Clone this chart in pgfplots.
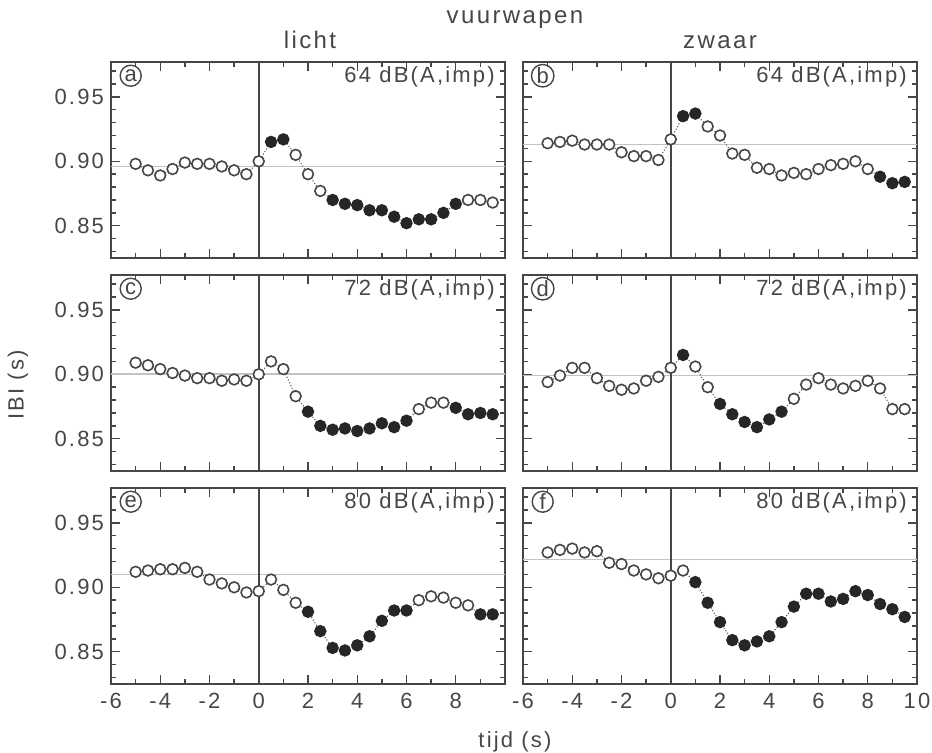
\documentclass[border=0pt]{standalone}
\usepackage{fontspec}
\setmainfont[LetterSpace=10]{Liberation Sans}
\usepackage{pgfplots}
\usepackage{pgfplotstable}
\pgfplotsset{compat=1.18}
\definecolor{ink}{RGB}{70,70,70}
\definecolor{refline}{RGB}{195,195,195}

% x y f   (f=1: filled marker)
\pgfplotstableread{
x y f
-5 0.898 0
-4.5 0.893 0
-4 0.889 0
-3.5 0.894 0
-3 0.899 0
-2.5 0.898 0
-2 0.898 0
-1.5 0.896 0
-1 0.893 0
-0.5 0.890 0
0 0.900 0
0.5 0.915 1
1 0.917 1
1.5 0.905 0
2 0.890 0
2.5 0.877 0
3 0.870 1
3.5 0.867 1
4 0.866 1
4.5 0.862 1
5 0.862 1
5.5 0.857 1
6 0.852 1
6.5 0.855 1
7 0.855 1
7.5 0.860 1
8 0.867 1
8.5 0.870 0
9 0.870 0
9.5 0.868 0
}\dataA
\pgfplotstableread{
x y f
-5 0.914 0
-4.5 0.915 0
-4 0.916 0
-3.5 0.913 0
-3 0.913 0
-2.5 0.913 0
-2 0.907 0
-1.5 0.904 0
-1 0.904 0
-0.5 0.901 0
0 0.917 0
0.5 0.935 1
1 0.937 1
1.5 0.927 0
2 0.920 0
2.5 0.906 0
3 0.905 0
3.5 0.895 0
4 0.894 0
4.5 0.889 0
5 0.891 0
5.5 0.890 0
6 0.894 0
6.5 0.897 0
7 0.898 0
7.5 0.900 0
8 0.894 0
8.5 0.888 1
9 0.883 1
9.5 0.884 1
}\dataB
\pgfplotstableread{
x y f
-5 0.909 0
-4.5 0.907 0
-4 0.904 0
-3.5 0.901 0
-3 0.899 0
-2.5 0.897 0
-2 0.897 0
-1.5 0.895 0
-1 0.896 0
-0.5 0.895 0
0 0.900 0
0.5 0.910 0
1 0.904 0
1.5 0.883 0
2 0.871 1
2.5 0.860 1
3 0.857 1
3.5 0.858 1
4 0.856 1
4.5 0.858 1
5 0.862 1
5.5 0.859 1
6 0.864 1
6.5 0.873 0
7 0.878 0
7.5 0.878 0
8 0.874 1
8.5 0.869 1
9 0.870 1
9.5 0.869 1
}\dataC
\pgfplotstableread{
x y f
-5 0.894 0
-4.5 0.899 0
-4 0.905 0
-3.5 0.905 0
-3 0.897 0
-2.5 0.891 0
-2 0.888 0
-1.5 0.889 0
-1 0.895 0
-0.5 0.898 0
0 0.905 0
0.5 0.915 1
1 0.906 0
1.5 0.890 0
2 0.877 1
2.5 0.869 1
3 0.863 1
3.5 0.859 1
4 0.865 1
4.5 0.871 1
5 0.881 0
5.5 0.892 0
6 0.897 0
6.5 0.892 0
7 0.889 0
7.5 0.891 0
8 0.895 0
8.5 0.889 0
9 0.873 0
9.5 0.873 0
}\dataD
\pgfplotstableread{
x y f
-5 0.912 0
-4.5 0.913 0
-4 0.914 0
-3.5 0.914 0
-3 0.915 0
-2.5 0.912 0
-2 0.906 0
-1.5 0.903 0
-1 0.900 0
-0.5 0.896 0
0 0.897 0
0.5 0.906 0
1 0.898 0
1.5 0.888 0
2 0.881 1
2.5 0.866 1
3 0.853 1
3.5 0.851 1
4 0.855 1
4.5 0.862 1
5 0.874 1
5.5 0.882 1
6 0.882 1
6.5 0.890 0
7 0.893 0
7.5 0.892 0
8 0.888 0
8.5 0.886 0
9 0.879 1
9.5 0.879 1
}\dataE
\pgfplotstableread{
x y f
-5 0.927 0
-4.5 0.929 0
-4 0.930 0
-3.5 0.927 0
-3 0.928 0
-2.5 0.919 0
-2 0.918 0
-1.5 0.913 0
-1 0.910 0
-0.5 0.907 0
0 0.909 0
0.5 0.913 0
1 0.904 1
1.5 0.888 1
2 0.873 1
2.5 0.859 1
3 0.855 1
3.5 0.858 1
4 0.862 1
4.5 0.873 1
5 0.885 1
5.5 0.895 1
6 0.895 1
6.5 0.889 1
7 0.891 1
7.5 0.897 1
8 0.894 1
8.5 0.887 1
9 0.883 1
9.5 0.877 1
}\dataF

\pgfplotsset{
  panel/.style={
    scale only axis, width=197pt, height=98pt, anchor=north west,
    xmin=-6, xmax=10, ymin=0.825, ymax=0.977,
    xtick={-6,-4,...,10}, minor x tick num=1,
    ytick={0.85,0.9,0.95},
    minor ytick={0.83,0.84,0.86,0.87,0.88,0.89,0.91,0.92,0.93,0.94,0.96,0.97},
    tick align=inside, tick pos=both,
    major tick length=4.5pt, minor tick length=2.5pt,
    axis line style={ink, line width=0.9pt},
    every tick/.style={ink, line width=0.7pt},
    xticklabels={}, yticklabels={},
    tick label style={font=\fontsize{11}{13}\selectfont, text=ink},
    xticklabel style={yshift=-1pt},
    clip=false,
  },
  leftcol/.style={
    yticklabels={0.85,0.90,0.95},
  },
}

\newcommand{\panel}[4]{%
  \addplot[refline, line width=0.8pt] coordinates {(-6,#2) (10,#2)};
  \addplot[ink, line width=0.8pt] coordinates {(0,0.825) (0,0.977)};
  \addplot[ink, densely dotted, line width=0.5pt] table[x=x,y=y] {#1};
  \addplot[scatter, only marks, scatter src=explicit symbolic,
    scatter/classes={0={mark=*, fill=white, draw=ink},
                     1={mark=*, fill=black!85, draw=black!85}},
    mark size=2.7pt, mark options={line width=0.8pt}]
    table[x=x,y=y,meta=f] {#1};
  \node[circle, draw=ink, line width=0.7pt, inner sep=0.4pt, minimum size=10.5pt,
    font=\fontsize{11}{12}\selectfont, text=ink] at (rel axis cs:0.05,0.93) {#3};
  \node[anchor=east, font=\fontsize{11}{13}\selectfont, text=ink]
    at (rel axis cs:0.992,0.925) {#4};
}

\begin{document}
\begin{tikzpicture}
\useasboundingbox (0,0) rectangle (466pt,-376.5pt);

\begin{axis}[panel, leftcol, at={(55.5pt,-31pt)}]
\panel{\dataA}{0.896}{a}{64 dB(A,imp)}
\end{axis}
\begin{axis}[panel, at={(261.5pt,-31pt)}]
\panel{\dataB}{0.913}{b}{64 dB(A,imp)}
\end{axis}

\begin{axis}[panel, leftcol, at={(55.5pt,-137.5pt)}]
\panel{\dataC}{0.900}{c}{72 dB(A,imp)}
\end{axis}
\begin{axis}[panel, at={(261.5pt,-137.5pt)}]
\panel{\dataD}{0.899}{d}{72 dB(A,imp)}
\end{axis}

\begin{axis}[panel, leftcol, at={(55.5pt,-244pt)},
  xticklabels={-6,-4,-2,0,2,4,6,8,{}}]
\panel{\dataE}{0.910}{e}{80 dB(A,imp)}
\end{axis}
\begin{axis}[panel, at={(261.5pt,-244pt)},
  xticklabels={-6,-4,-2,0,2,4,6,8,10}]
\panel{\dataF}{0.9215}{f}{80 dB(A,imp)}
\end{axis}

\node[font=\fontsize{12}{14}\selectfont, text=ink] at (257.5pt,-10pt) {vuurwapen};
\node[font=\fontsize{12}{14}\selectfont, text=ink] at (155pt,-20pt) {licht};
\node[font=\fontsize{12}{14}\selectfont, text=ink] at (360pt,-21pt) {zwaar};
\node[font=\fontsize{11}{13}\selectfont, text=ink, rotate=90] at (9pt,-192.5pt) {IBI (s)};
\node[font=\fontsize{11}{13}\selectfont, text=ink] at (257.5pt,-371pt) {tijd (s)};
\end{tikzpicture}
\end{document}
